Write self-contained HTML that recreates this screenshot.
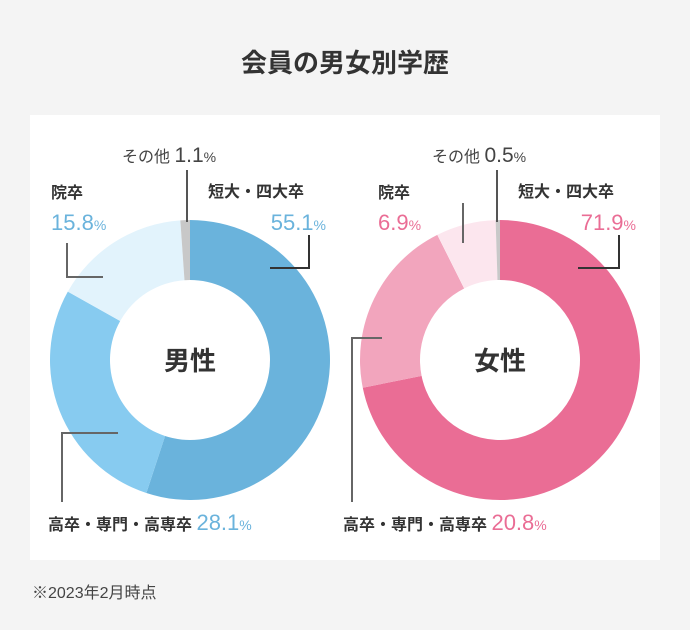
<!DOCTYPE html>
<html><head><meta charset="utf-8"><style>
body{margin:0;background:#f4f4f4;width:690px;height:630px;overflow:hidden;font-family:"Liberation Sans","Noto Sans CJK JP",sans-serif;}
svg{position:absolute;left:0;top:0}
</style></head><body>
<svg width="690" height="630" xmlns="http://www.w3.org/2000/svg" id="c">
<text x="345" y="72" text-anchor="middle" font-size="26" font-weight="bold" fill="#333">会員の男女別学歴</text>
<rect x="30" y="115" width="630" height="445" fill="#fff"/>
<g id="donuts"></g>
<g stroke="#555" stroke-width="2" fill="none">
<polyline points="187,170 187,222"/>
<polyline points="309,235 309,268 270,268" stroke="#333"/>
<polyline points="67,243 67,277 103,277" stroke="#666"/>
<polyline points="62,502 62,433 118,433" stroke="#666"/>
<polyline points="497,170 497,222"/>
<polyline points="619,235 619,268 578,268" stroke="#333"/>
<polyline points="463,203 463,243" stroke="#666"/>
<polyline points="352,502 352,338 382,338" stroke="#666"/>
</g>
<g font-size="16" font-weight="bold" fill="#333">
<text x="190" y="370" text-anchor="middle" font-size="26">男性</text>
<text x="500" y="370" text-anchor="middle" font-size="26">女性</text>
<text x="122" y="162" font-weight="normal" fill="#444">その他 <tspan font-size="21">1.1</tspan><tspan font-size="14">%</tspan></text>
<text x="208" y="197">短大・四大卒</text>
<text x="326" y="230" text-anchor="end" fill="#6ab3dc" font-weight="normal"><tspan font-size="22">55.1</tspan><tspan font-size="14">%</tspan></text>
<text x="51" y="198">院卒</text>
<text x="51" y="230" fill="#6ab3dc" font-weight="normal"><tspan font-size="22">15.8</tspan><tspan font-size="14">%</tspan></text>
<text x="48" y="530">高卒・専門・高専卒 <tspan fill="#6ab3dc" font-weight="normal" font-size="22">28.1</tspan><tspan fill="#6ab3dc" font-weight="normal" font-size="14">%</tspan></text>
<text x="432" y="162" font-weight="normal" fill="#444">その他 <tspan font-size="21">0.5</tspan><tspan font-size="14">%</tspan></text>
<text x="518" y="197">短大・四大卒</text>
<text x="636" y="230" text-anchor="end" fill="#ea6d95" font-weight="normal"><tspan font-size="22">71.9</tspan><tspan font-size="14">%</tspan></text>
<text x="378" y="198">院卒</text>
<text x="378" y="230" fill="#ea6d95" font-weight="normal"><tspan font-size="22">6.9</tspan><tspan font-size="14">%</tspan></text>
<text x="343" y="530">高卒・専門・高専卒 <tspan fill="#ea6d95" font-weight="normal" font-size="22">20.8</tspan><tspan fill="#ea6d95" font-weight="normal" font-size="14">%</tspan></text>
</g>
<text x="32" y="598" font-size="16" fill="#444">※2023年2月時点</text>
</svg>
<script>
const categories=["短大・四大卒","高卒・専門・高専卒","院卒","その他"];
const maleValues=[55.1,28.1,15.8,1.1];
const femaleValues=[71.9,20.8,6.9,0.5];
const maleColors=["#6ab3dc","#87cbf0","#e2f3fc","#c8c8c8"];
const femaleColors=["#ea6d95","#f2a5bd","#fce6ee","#c8c8c8"];
const g=document.getElementById('donuts');
function pt(cx,cy,r,a){return [cx+r*Math.sin(a),cy-r*Math.cos(a)];}
function donut(cx,cy,vals,cols,prefix){
  const tot=vals.reduce((a,b)=>a+b,0);let s=0;
  vals.forEach((v,i)=>{
    const a0=s/tot*2*Math.PI,a1=(s+v)/tot*2*Math.PI;s+=v;
    const R=140,r=80,l=(a1-a0)>Math.PI?1:0;
    const p1=pt(cx,cy,R,a0),p2=pt(cx,cy,R,a1),p3=pt(cx,cy,r,a1),p4=pt(cx,cy,r,a0);
    const p=document.createElementNS('http://www.w3.org/2000/svg','path');
    p.setAttribute('d',`M${p1}A${R},${R} 0 ${l} 1 ${p2}L${p3}A${r},${r} 0 ${l} 0 ${p4}Z`);
    p.setAttribute('fill',cols[i]);
    
    
    g.appendChild(p);
  });
}
donut(190,360,maleValues,maleColors,'male');
donut(500,360,femaleValues,femaleColors,'female');
</script>
</body></html>
